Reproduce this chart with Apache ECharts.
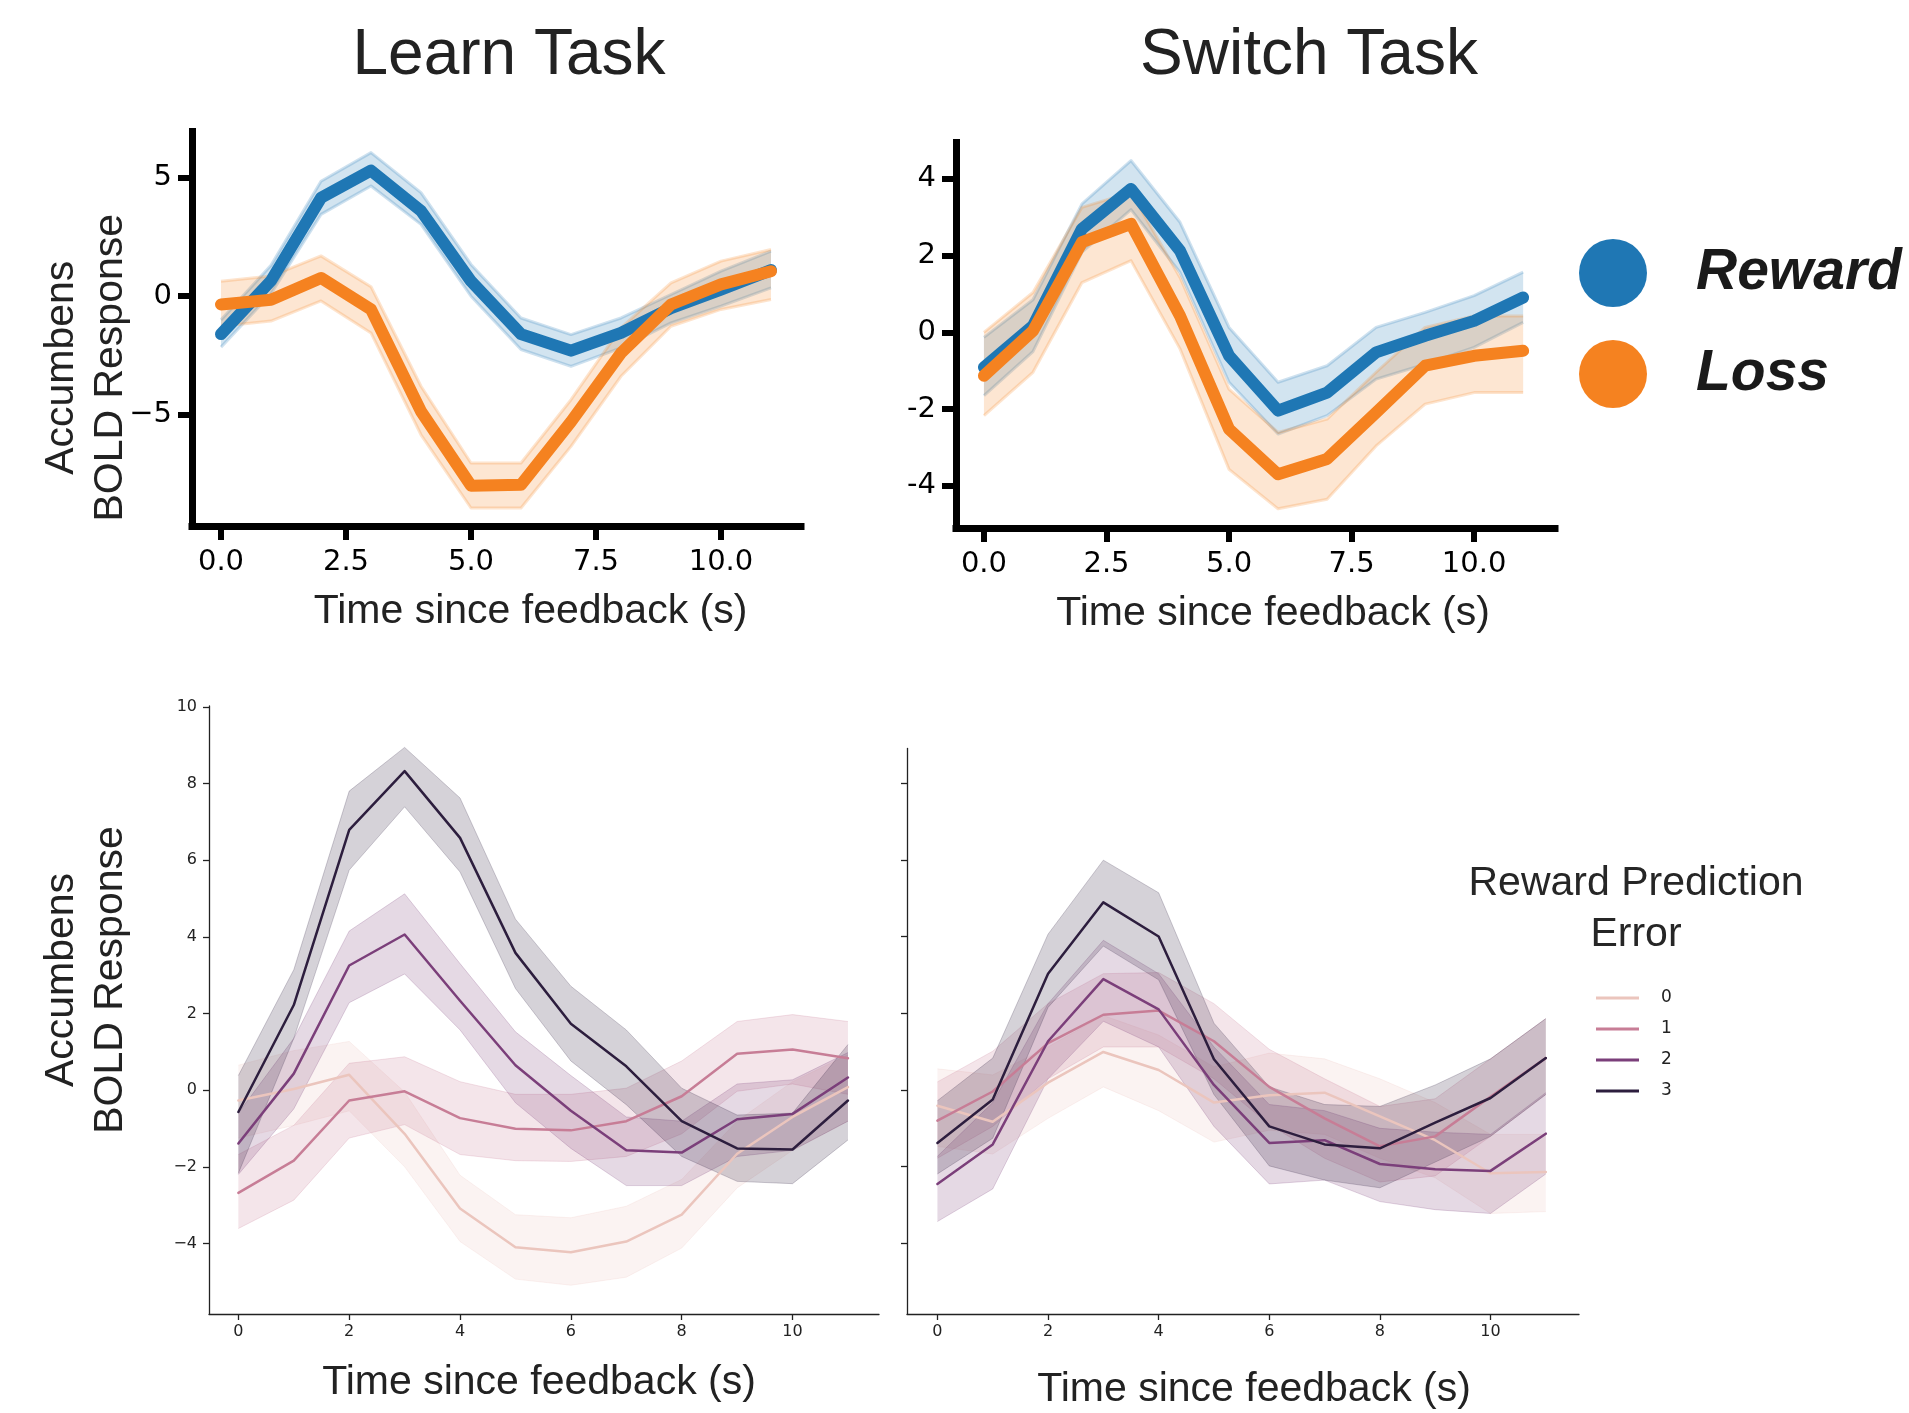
<!DOCTYPE html>
<html>
<head>
<meta charset="utf-8">
<script src="https://cdn.jsdelivr.net/npm/echarts@6.0.0/dist/echarts.min.js"></script>
<style>
html, body { margin: 0; padding: 0; background: #fff; }
#chart { width: 1909px; height: 1413px; }
</style>
</head>
<body>
<div id="chart"></div>
<script>
var timePoints = [0, 1, 2, 3, 4, 5, 6, 7, 8, 9, 10, 11];

// top row: reward vs loss, mean and 95% band
var learnReward     = [-1.6, 0.65, 4.15, 5.3, 3.6, 0.63, -1.6, -2.3, -1.55, -0.5, 0.28, 1.1];
var learnRewardLow  = [-2.15, 0.1, 3.45, 4.65, 3.03, 0.0, -2.25, -2.96, -2.18, -1.13, -0.42, 0.35];
var learnRewardHigh = [-1.0, 1.3, 4.85, 6.06, 4.37, 1.34, -0.92, -1.62, -0.92, 0.07, 1.06, 1.9];
var learnLoss       = [-0.35, -0.15, 0.77, -0.56, -4.86, -8.0, -7.96, -5.3, -2.4, -0.35, 0.5, 1.05];
var learnLossLow    = [-1.27, -1.05, -0.2, -1.55, -5.85, -8.94, -8.94, -6.34, -3.38, -1.27, -0.56, -0.14];
var learnLossHigh   = [0.63, 0.85, 1.7, 0.4, -3.8, -7.04, -7.04, -4.37, -1.34, 0.56, 1.48, 1.97];

var switchReward     = [-0.91, 0.17, 2.7, 3.74, 2.13, -0.61, -2.04, -1.57, -0.52, -0.09, 0.3, 0.91];
var switchRewardLow  = [-1.65, -0.5, 2.09, 3.2, 1.56, -1.3, -2.65, -2.17, -1.22, -0.83, -0.39, 0.26];
var switchRewardHigh = [-0.13, 0.85, 3.35, 4.48, 2.87, 0.13, -1.3, -0.87, 0.13, 0.52, 0.96, 1.57];
var switchLoss       = [-1.13, 0.04, 2.35, 2.83, 0.43, -2.52, -3.7, -3.3, -2.09, -0.87, -0.61, -0.48];
var switchLossLow    = [-2.17, -1.04, 1.3, 1.87, -0.43, -3.57, -4.6, -4.35, -2.96, -1.87, -1.57, -1.57];
var switchLossHigh   = [0.0, 1.04, 3.26, 3.65, 1.43, -1.48, -2.61, -2.26, -1.04, 0.13, 0.43, 0.43];

// bottom row: reward prediction error levels 0..3
var rpeLevels = ['0', '1', '2', '3'];
var rpeColors = ['#ebc5bd', '#c77d96', '#7b3f7a', '#2d1e3e'];

var learnRpe0     = [-0.27, 0.03, 0.4, -1.14, -3.09, -4.1, -4.23, -3.95, -3.25, -1.66, -0.7, 0.08];
var learnRpe0Low  = [-1.25, -0.92, -0.54, -2.0, -3.95, -4.93, -5.09, -4.88, -4.12, -2.55, -1.57, -0.81];
var learnRpe0High = [0.65, 1.03, 1.27, -0.05, -2.22, -3.25, -3.33, -3.03, -2.33, -0.81, 0.22, 0.92];
var learnRpe1     = [-2.68, -1.84, -0.27, -0.03, -0.73, -1.01, -1.05, -0.81, -0.16, 0.95, 1.06, 0.83];
var learnRpe1Low  = [-3.61, -2.87, -1.25, -0.9, -1.68, -1.84, -1.86, -1.73, -1.14, -0.03, 0.16, -0.11];
var learnRpe1High = [-1.68, -0.92, 0.7, 0.87, 0.22, -0.11, -0.11, 0.05, 0.76, 1.79, 1.97, 1.79];
var learnRpe2     = [-1.39, 0.43, 3.25, 4.06, 2.33, 0.65, -0.54, -1.57, -1.63, -0.76, -0.62, 0.33];
var learnRpe2Low  = [-2.2, -0.49, 2.28, 3.03, 1.57, -0.33, -1.52, -2.49, -2.49, -1.73, -1.57, -0.81];
var learnRpe2High = [-0.6, 1.35, 4.15, 5.12, 3.3, 1.52, 0.38, -0.7, -0.81, 0.16, 0.27, 0.98];
var learnRpe3     = [-0.57, 2.22, 6.79, 8.32, 6.58, 3.58, 1.73, 0.62, -0.81, -1.52, -1.55, -0.27];
var learnRpe3Low  = [-2.17, 1.35, 5.74, 7.39, 5.69, 2.65, 0.76, -0.38, -1.73, -2.38, -2.44, -1.3];
var learnRpe3High = [0.38, 3.14, 7.8, 8.94, 7.62, 4.46, 2.71, 1.57, 0.05, -0.65, -0.6, 1.19];

var switchRpe0     = [-0.41, -0.83, 0.19, 0.99, 0.52, -0.33, -0.14, -0.07, -0.69, -1.31, -2.17, -2.14];
var switchRpe0Low  = [-1.47, -1.67, -0.74, 0.08, -0.54, -1.36, -1.05, -1.16, -1.78, -2.29, -3.22, -3.17];
var switchRpe0High = [0.55, 0.39, 1.12, 1.94, 1.43, 0.6, 0.96, 0.81, 0.29, -0.33, -1.16, -1.16];
var switchRpe1     = [-0.8, -0.04, 1.22, 1.96, 2.07, 1.27, 0.08, -0.74, -1.47, -1.21, -0.18, 0.83];
var switchRpe1Low  = [-1.78, -0.95, 0.29, 1.12, 1.12, 0.29, -0.9, -1.78, -2.4, -2.24, -1.21, -0.12];
var switchRpe1High = [0.21, 1.01, 2.25, 3.03, 3.06, 2.25, 1.06, 0.29, -0.43, -0.23, 0.81, 1.86];
var switchRpe2     = [-2.45, -1.42, 1.27, 2.89, 2.1, 0.13, -1.38, -1.31, -1.93, -2.07, -2.11, -1.14];
var switchRpe2Low  = [-3.43, -2.58, 0.29, 1.79, 1.12, -0.95, -2.45, -2.35, -2.91, -3.12, -3.22, -2.19];
var switchRpe2High = [-1.73, -0.33, 2.25, 3.9, 3.03, 1.12, -0.38, -0.54, -1.0, -1.1, -1.16, -0.07];
var switchRpe3     = [-1.38, -0.25, 3.03, 4.89, 4.0, 0.8, -0.95, -1.42, -1.52, -0.85, -0.21, 0.83];
var switchRpe3Low  = [-2.19, -1.26, 2.15, 3.75, 2.87, -0.12, -1.98, -2.35, -2.55, -1.88, -1.21, -0.12];
var switchRpe3High = [-0.28, 0.83, 4.06, 5.99, 5.14, 1.74, 0.08, -0.38, -0.43, 0.13, 0.81, 1.86];

var topXTicks = [0, 2.5, 5, 7.5, 10];
var learnYTicks = [-5, 0, 5];
var switchYTicks = [-4, -2, 0, 2, 4];
var bottomXTicks = [0, 2, 4, 6, 8, 10];
var bottomYTicks = [-4, -2, 0, 2, 4, 6, 8, 10];

var rewardColor = '#1f77b4';
var lossColor = '#f58220';
var sansFont = 'Liberation Sans';

function pairs(ys) {
    return timePoints.map(function (t, i) { return [t, ys[i]]; });
}

function rgba(hex, a) {
    var n = parseInt(hex.slice(1), 16);
    return 'rgba(' + (n >> 16) + ',' + ((n >> 8) & 255) + ',' + (n & 255) + ',' + a + ')';
}

// line first, then its band (same order seaborn draws them)
function lineWithBand(name, grid, mean, low, high, color, lineWidth, fillAlpha, edgeAlpha, edgeWidth) {
    var bandData = timePoints.map(function (t, i) { return [t, low[i], high[i]]; });
    return [
        {
            name: name, type: 'line', xAxisIndex: grid, yAxisIndex: grid,
            data: pairs(mean), symbol: 'none', color: color,
            lineStyle: {color: color, width: lineWidth, join: 'round', cap: 'round'},
            silent: true
        },
        {
            name: name + ' ci', type: 'custom', xAxisIndex: grid, yAxisIndex: grid,
            data: bandData, encode: {x: 0, y: [1, 2]}, silent: true,
            renderItem: function (params, api) {
                if (params.dataIndex !== 0) return null;
                var upper = [], lower = [];
                for (var k = 0; k < bandData.length; k++) {
                    upper.push(api.coord([bandData[k][0], bandData[k][2]]));
                    lower.push(api.coord([bandData[k][0], bandData[k][1]]));
                }
                var edge = {stroke: rgba(color, edgeAlpha), fill: null, lineWidth: edgeWidth, lineJoin: 'round'};
                return {
                    type: 'group',
                    children: [
                        {type: 'polygon', shape: {points: upper.concat(lower.slice().reverse())},
                            style: {fill: rgba(color, fillAlpha)}},
                        {type: 'polyline', shape: {points: upper}, style: edge},
                        {type: 'polyline', shape: {points: lower}, style: edge}
                    ]
                };
            }
        }
    ];
}

function minusSign(v) {
    return String(v).replace('-', '\u2212');
}

function topXAxis(grid, min, max, padLeft) {
    return {
        type: 'value', gridIndex: grid, min: min, max: max,
        splitLine: {show: false},
        axisLine: {show: true, onZero: false, lineStyle: {color: '#000', width: 7, cap: 'square'}},
        axisTick: {show: true, length: 14, customValues: topXTicks, lineStyle: {color: '#000', width: 6}},
        axisLabel: {
            customValues: topXTicks, margin: 22, color: '#000',
            fontFamily: 'DejaVu Sans', fontSize: 29,
            formatter: function (v) { return v.toFixed(1); }
        },
        name: 'Time since feedback (s)', nameLocation: 'middle', nameGap: 65, nameMoveOverlap: false,
        nameTextStyle: {fontFamily: sansFont, fontSize: 41, color: '#222', padding: [0, 0, 0, padLeft]}
    };
}

function topYAxis(grid, min, max, ticks, fmt, withName) {
    var axis = {
        type: 'value', gridIndex: grid, min: min, max: max,
        splitLine: {show: false},
        axisLine: {show: true, onZero: false, lineStyle: {color: '#000', width: 7, cap: 'square'}},
        axisTick: {show: true, length: 14, customValues: ticks, lineStyle: {color: '#000', width: 6}},
        axisLabel: {
            customValues: ticks, margin: 20, color: '#000',
            fontFamily: 'DejaVu Sans', fontSize: 29, formatter: fmt
        }
    };
    if (withName) {
        axis.name = 'Accumbens\nBOLD Response';
        axis.nameLocation = 'middle';
        axis.nameRotate = 90;
        axis.nameGap = 57;
        axis.nameMoveOverlap = false;
        axis.nameTextStyle = {fontFamily: sansFont, fontSize: 41, lineHeight: 49, color: '#222', padding: [0, 78, 0, 0]};
    }
    return axis;
}

function bottomXAxis(grid, min, max, gap, pad) {
    return {
        type: 'value', gridIndex: grid, min: min, max: max,
        splitLine: {show: false},
        axisLine: {show: true, onZero: false, lineStyle: {color: '#222', width: 1.3}},
        axisTick: {show: true, length: 6, customValues: bottomXTicks, lineStyle: {color: '#222', width: 1.3}},
        axisLabel: {customValues: bottomXTicks, margin: 10, color: '#222', fontFamily: 'DejaVu Sans', fontSize: 16},
        name: 'Time since feedback (s)', nameLocation: 'middle', nameGap: gap, nameMoveOverlap: false,
        nameTextStyle: {fontFamily: sansFont, fontSize: 41, color: '#222', padding: pad}
    };
}

function bottomYAxis(grid, min, max, ticks, showLabels, withName) {
    var axis = {
        type: 'value', gridIndex: grid, min: min, max: max,
        splitLine: {show: false},
        axisLine: {show: true, onZero: false, lineStyle: {color: '#222', width: 1.3}},
        axisTick: {show: true, length: 6, customValues: ticks, lineStyle: {color: '#222', width: 1.3}},
        axisLabel: {
            show: showLabels, customValues: ticks, margin: 12, color: '#222',
            fontFamily: 'DejaVu Sans', fontSize: 16, formatter: minusSign
        }
    };
    if (withName) {
        axis.name = 'Accumbens\nBOLD Response';
        axis.nameLocation = 'middle';
        axis.nameRotate = 90;
        axis.nameGap = 74;
        axis.nameMoveOverlap = false;
        axis.nameTextStyle = {fontFamily: sansFont, fontSize: 41, lineHeight: 49, color: '#222', padding: [0, 0, 0, 60]};
    }
    return axis;
}

var series = [];
series = series.concat(lineWithBand('Reward', 0, learnReward, learnRewardLow, learnRewardHigh, rewardColor, 12, 0.2, 0.22, 3));
series = series.concat(lineWithBand('Loss', 0, learnLoss, learnLossLow, learnLossHigh, lossColor, 12, 0.2, 0.22, 3));
series = series.concat(lineWithBand('Reward', 1, switchReward, switchRewardLow, switchRewardHigh, rewardColor, 12, 0.2, 0.22, 3));
series = series.concat(lineWithBand('Loss', 1, switchLoss, switchLossLow, switchLossHigh, lossColor, 12, 0.2, 0.22, 3));

var learnRpe = [
    [learnRpe0, learnRpe0Low, learnRpe0High],
    [learnRpe1, learnRpe1Low, learnRpe1High],
    [learnRpe2, learnRpe2Low, learnRpe2High],
    [learnRpe3, learnRpe3Low, learnRpe3High]
];
var switchRpe = [
    [switchRpe0, switchRpe0Low, switchRpe0High],
    [switchRpe1, switchRpe1Low, switchRpe1High],
    [switchRpe2, switchRpe2Low, switchRpe2High],
    [switchRpe3, switchRpe3Low, switchRpe3High]
];
for (var i = 0; i < rpeLevels.length; i++) {
    series = series.concat(lineWithBand(rpeLevels[i], 2, learnRpe[i][0], learnRpe[i][1], learnRpe[i][2], rpeColors[i], 2.5, 0.2, 0.22, 1));
}
for (var j = 0; j < rpeLevels.length; j++) {
    series = series.concat(lineWithBand(rpeLevels[j], 3, switchRpe[j][0], switchRpe[j][1], switchRpe[j][2], rpeColors[j], 2.5, 0.2, 0.22, 1));
}

var myChart = echarts.init(document.getElementById('chart'), null, {renderer: 'canvas'});

var option = {
    backgroundColor: '#fff',
    animation: false,
    title: [
        {text: 'Learn Task', left: 504, top: 17, textAlign: 'center',
            textStyle: {fontFamily: sansFont, fontSize: 64, lineHeight: 68, fontWeight: 'normal', color: '#222'}},
        {text: 'Switch Task', left: 1304, top: 17, textAlign: 'center',
            textStyle: {fontFamily: sansFont, fontSize: 64, lineHeight: 68, fontWeight: 'normal', color: '#222'}},
        {text: 'Reward Prediction\nError', left: 1631, top: 853, textAlign: 'center',
            textStyle: {fontFamily: sansFont, fontSize: 41, lineHeight: 51, fontWeight: 'normal', color: '#262626'}}
    ],
    legend: [
        {
            data: ['Reward', 'Loss'], orient: 'vertical', left: 1579, top: 239, padding: 0,
            icon: 'circle', itemWidth: 156, itemHeight: 68, itemGap: 33,
            selectedMode: false,
            textStyle: {fontFamily: sansFont, fontSize: 57, fontWeight: 'bold', fontStyle: 'italic', color: '#1a1a1a'}
        },
        {
            data: rpeLevels, orient: 'vertical', left: 1591, top: 983,
            icon: 'rect', itemWidth: 43, itemHeight: 3, itemGap: 11,
            selectedMode: false,
            textStyle: {fontFamily: 'DejaVu Sans', fontSize: 17, lineHeight: 20, color: '#222', padding: [0, 0, 0, 17]}
        }
    ],
    grid: [
        {left: 192, top: 131.5, width: 609, height: 394.5},
        {left: 956, top: 142.5, width: 599, height: 385.5},
        {left: 209, top: 706, width: 670, height: 608},
        {left: 907, top: 748.5, width: 672, height: 565.5}
    ],
    xAxis: [
        topXAxis(0, -0.58, 11.6, 68),
        topXAxis(1, -0.57, 11.65, 35),
        bottomXAxis(2, -0.53, 11.56, 48, [0, 10, 0, 0]),
        bottomXAxis(3, -0.55, 11.6, 55, [0, 0, 0, 22])
    ],
    yAxis: [
        topYAxis(0, -9.7, 6.95, learnYTicks, minusSign, true),
        topYAxis(1, -5.1, 4.95, switchYTicks, function (v) { return String(v); }, false),
        bottomYAxis(2, -5.84, 10.02, bottomYTicks, true, true),
        bottomYAxis(3, -5.84, 8.9, bottomYTicks.slice(0, 7), false, false)
    ],
    series: series
};

myChart.setOption(option);
</script>
</body>
</html>
